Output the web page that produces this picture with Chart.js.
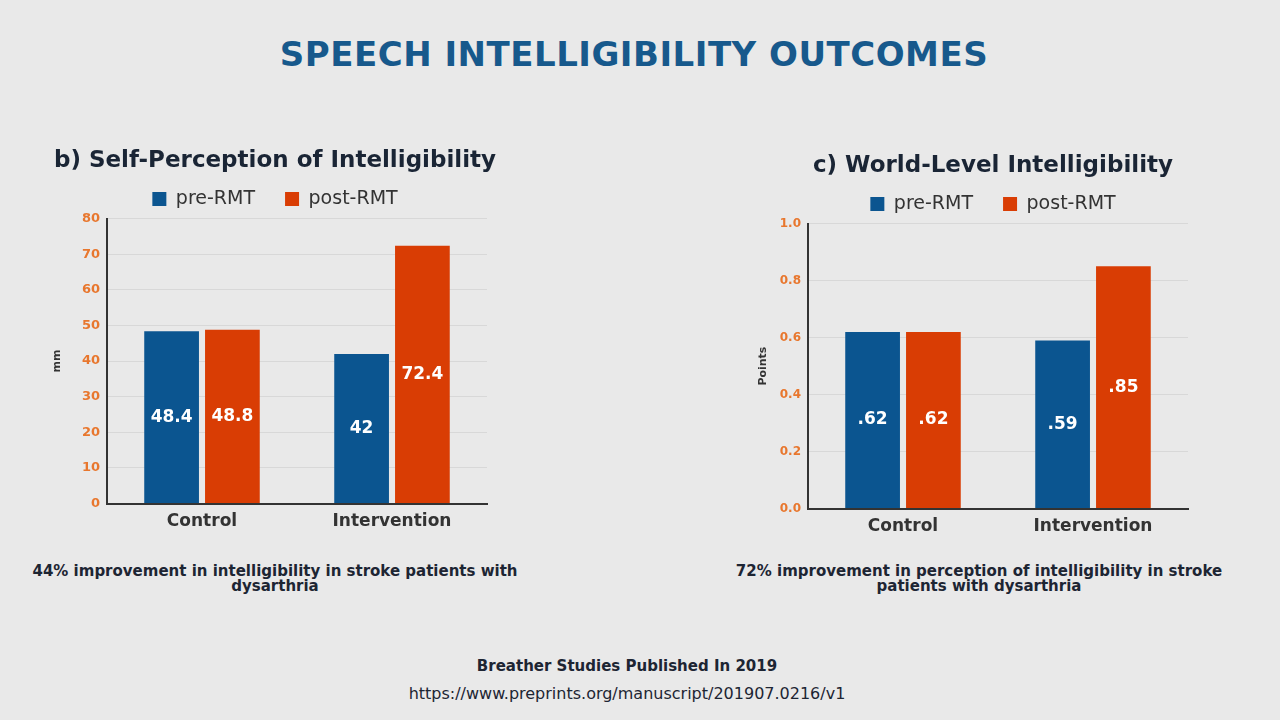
<!DOCTYPE html>
<html>
<head>
<meta charset="utf-8">
<script src="https://cdn.jsdelivr.net/npm/chart.js@4/dist/chart.umd.min.js"></script>
<style>
  html, body { margin: 0; padding: 0; }
  body { width: 1280px; height: 720px; background: #e9e9e9; position: relative; overflow: hidden; font-family: "DejaVu Sans", sans-serif; }
  .main-title { position: absolute; left: 0; width: 1268px; top: 34px; text-align: center; font-size: 34px; font-weight: bold; color: #17598c; letter-spacing: 0.5px; }
  .panel { position: absolute; height: 400px; }
  .note { position: absolute; width: 600px; text-align: center; font-size: 15px; font-weight: bold; color: #1d2533; line-height: 15px; }
  .src { position: absolute; left: 0; width: 1254px; text-align: center; color: #1d2533; }
</style>
</head>
<body>
<div class="main-title">SPEECH INTELLIGIBILITY OUTCOMES</div>

<div class="panel" style="left:50px; top:140px; width:450px;"><canvas id="chartB"></canvas></div>
<div class="panel" style="left:756px; top:145px; width:474px;"><canvas id="chartC"></canvas></div>

<div class="note" style="left:-25px; top:564px;">44% improvement in intelligibility in stroke patients with<br>dysarthria</div>
<div class="note" style="left:679px; top:564px;">72% improvement in perception of intelligibility in stroke<br>patients with dysarthria</div>

<div class="src" style="top:657px; font-size:15px; font-weight:bold;">Breather Studies Published In 2019</div>
<div class="src" style="top:684px; font-size:16px;">https://www.preprints.org/manuscript/201907.0216/v1</div>

<script>
const groups = ['Control', 'Intervention'];
const seriesNames = ['pre-RMT', 'post-RMT'];

const selfPre = [48.4, 42];
const selfPost = [48.8, 72.4];
const selfTicks = [0, 10, 20, 30, 40, 50, 60, 70, 80];

const wordPre = [0.62, 0.59];
const wordPost = [0.62, 0.85];
const wordTicks = [0.0, 0.2, 0.4, 0.6, 0.8, 1.0];

const BLUE = '#0b5590';
const ORANGE = '#d93d04';
const TICK = '#e8772e';
const FONT = '"DejaVu Sans", sans-serif';

// draws value inside the middle of each bar
const barValues = {
    id: 'barValues',
    afterDatasetsDraw(chart, args, opts) {
        const ctx = chart.ctx;
        ctx.save();
        ctx.fillStyle = '#ffffff';
        ctx.font = 'bold 17px ' + FONT;
        ctx.textAlign = 'center';
        ctx.textBaseline = 'middle';
        chart.data.datasets.forEach((ds, di) => {
            chart.getDatasetMeta(di).data.forEach((bar, i) => {
                const y = (bar.y + bar.base) / 2;
                ctx.fillText(opts.format(ds.data[i]), bar.x, y);
            });
        });
        ctx.restore();
    }
};

// yWidth: room for the left axis, rightRoom: blank space right of the plot
function makeChart(id, cfg) {
    return new Chart(document.getElementById(id).getContext('2d'), {
        type: 'bar',
        data: {
            labels: groups,
            datasets: [
                { label: seriesNames[0], data: cfg.pre, backgroundColor: BLUE, categoryPercentage: 0.64, barPercentage: 0.9 },
                { label: seriesNames[1], data: cfg.post, backgroundColor: ORANGE, categoryPercentage: 0.64, barPercentage: 0.9 }
            ]
        },
        options: {
            responsive: true,
            maintainAspectRatio: false,
            animation: false,
            layout: { padding: 0 },
            plugins: {
                title: {
                    display: true, text: cfg.title, color: '#1a2535',
                    font: { family: FONT, size: 23, weight: 'bold' },
                    padding: { top: 7, bottom: -15 }
                },
                legend: {
                    labels: {
                        color: '#333', boxWidth: 14, boxHeight: 14, padding: 30,
                        font: { family: FONT, size: 19 }
                    }
                },
                tooltip: { enabled: false },
                barValues: { format: cfg.fmtVal }
            },
            scales: {
                x: {
                    grid: { display: false, drawTicks: false },
                    border: { color: '#333', width: 2 },
                    ticks: { color: '#333', font: { family: FONT, size: 17, weight: 'bold' }, padding: 8 }
                },
                y: {
                    min: cfg.ticks[0],
                    max: cfg.ticks[cfg.ticks.length - 1],
                    afterBuildTicks: (axis) => { axis.ticks = cfg.ticks.map((v) => ({ value: v })); },
                    afterFit: (axis) => { axis.width = cfg.yWidth; },
                    grid: { color: '#d8d8d8', drawTicks: false },
                    border: { color: '#333', width: 2 },
                    ticks: { color: TICK, font: { family: FONT, size: cfg.tickSize, weight: 'bold' }, padding: 7, callback: cfg.fmtTick },
                    title: { display: true, text: cfg.yTitle, color: '#333', font: { family: FONT, size: 11, weight: 'bold' }, padding: 1 }
                },
                yRoom: {
                    position: 'right',
                    grid: { display: false },
                    border: { display: false },
                    ticks: { display: false },
                    afterFit: (axis) => { axis.width = cfg.rightRoom; }
                }
            }
        },
        plugins: [barValues]
    });
}

makeChart('chartB', {
    title: 'b) Self-Perception of Intelligibility',
    pre: selfPre, post: selfPost, ticks: selfTicks, yTitle: 'mm',
    fmtTick: (v) => String(v), fmtVal: (v) => String(v),
    tickSize: 13, yWidth: 57, rightRoom: 13
});

makeChart('chartC', {
    title: 'c) World-Level Intelligibility',
    pre: wordPre, post: wordPost, ticks: wordTicks, yTitle: 'Points',
    fmtTick: (v) => v.toFixed(1), fmtVal: (v) => v.toFixed(2).replace(/^0/, ''),
    tickSize: 12, yWidth: 52, rightRoom: 42
});
</script>
</body>
</html>
